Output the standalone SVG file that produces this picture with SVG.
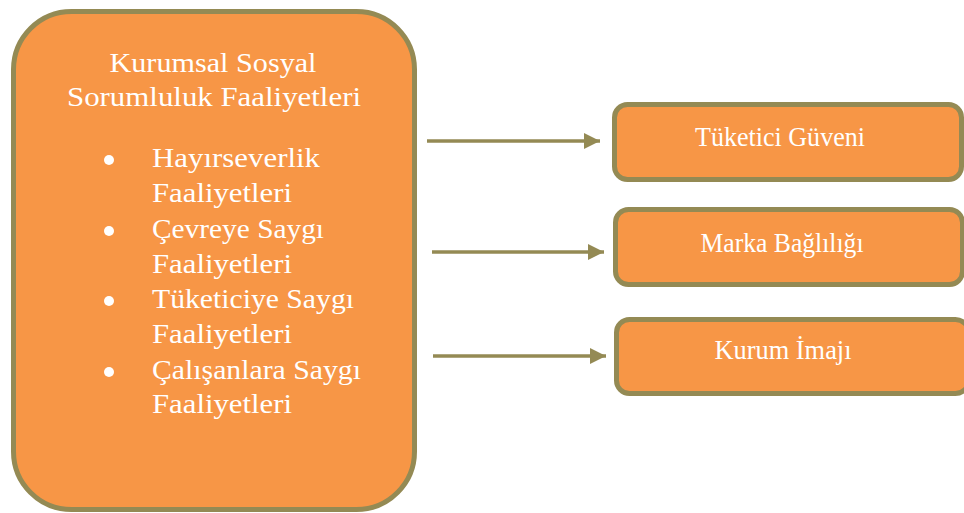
<svg xmlns="http://www.w3.org/2000/svg" width="964" height="513" viewBox="0 0 964 513">
<defs>
<style>
.box{fill:#F79646;stroke:#948A54;stroke-width:5}
.t{font-family:"Liberation Serif","Times New Roman",serif;fill:#FFFFFF;font-size:28px}
.c{text-anchor:middle}
.conn{stroke:#948A54;stroke-width:3.5;fill:none}
</style>
<marker id="ah" markerUnits="userSpaceOnUse" markerWidth="16" markerHeight="17" refX="16" refY="8.5" orient="auto">
<path d="M0,0.5 L16,8.5 L0,16.5 Z" fill="#948A54"/>
</marker>
</defs>
<rect width="964" height="513" fill="#FFFFFF"/>
<g id="csr">
<rect class="box" x="13.5" y="11.5" width="401" height="498" rx="58" ry="58"/>
<text class="t c" x="213" y="72" textLength="207" lengthAdjust="spacingAndGlyphs">Kurumsal Sosyal</text>
<text class="t c" x="214" y="106" textLength="294" lengthAdjust="spacingAndGlyphs">Sorumluluk Faaliyetleri</text>
<circle cx="109" cy="160" r="5" fill="#FFFFFF"/>
<circle cx="109" cy="231" r="5" fill="#FFFFFF"/>
<circle cx="109" cy="301" r="5" fill="#FFFFFF"/>
<circle cx="109" cy="372" r="5" fill="#FFFFFF"/>
<text class="t" x="152" y="167" textLength="168" lengthAdjust="spacingAndGlyphs">Hayırseverlik</text>
<text class="t" x="152" y="202" textLength="140" lengthAdjust="spacingAndGlyphs">Faaliyetleri</text>
<text class="t" x="152" y="238" textLength="172" lengthAdjust="spacingAndGlyphs">Çevreye Saygı</text>
<text class="t" x="152" y="273" textLength="140" lengthAdjust="spacingAndGlyphs">Faaliyetleri</text>
<text class="t" x="152" y="308" textLength="202" lengthAdjust="spacingAndGlyphs">Tüketiciye Saygı</text>
<text class="t" x="152" y="343" textLength="140" lengthAdjust="spacingAndGlyphs">Faaliyetleri</text>
<text class="t" x="152" y="379" textLength="209" lengthAdjust="spacingAndGlyphs">Çalışanlara Saygı</text>
<text class="t" x="152" y="413" textLength="140" lengthAdjust="spacingAndGlyphs">Faaliyetleri</text>
</g>
<g id="n1">
<rect class="box" x="614.5" y="104.5" width="347" height="75" rx="13" ry="13"/>
<text class="t c" x="780" y="146" textLength="170" lengthAdjust="spacingAndGlyphs">Tüketici Güveni</text>
</g>
<g id="n2">
<rect class="box" x="615.5" y="209.5" width="347" height="75" rx="13" ry="13"/>
<text class="t c" x="782" y="252" textLength="163" lengthAdjust="spacingAndGlyphs">Marka Bağlılığı</text>
</g>
<g id="n3">
<rect class="box" x="616.5" y="319.5" width="352" height="74" rx="13" ry="13"/>
<text class="t c" x="783" y="359" textLength="137" lengthAdjust="spacingAndGlyphs">Kurum İmajı</text>
</g>
<g id="connectors">
<line class="conn" x1="427" y1="141" x2="600" y2="141" marker-end="url(#ah)"/>
<line class="conn" x1="432" y1="252" x2="604" y2="252" marker-end="url(#ah)"/>
<line class="conn" x1="433" y1="356" x2="606" y2="356" marker-end="url(#ah)"/>
</g>
</svg>
